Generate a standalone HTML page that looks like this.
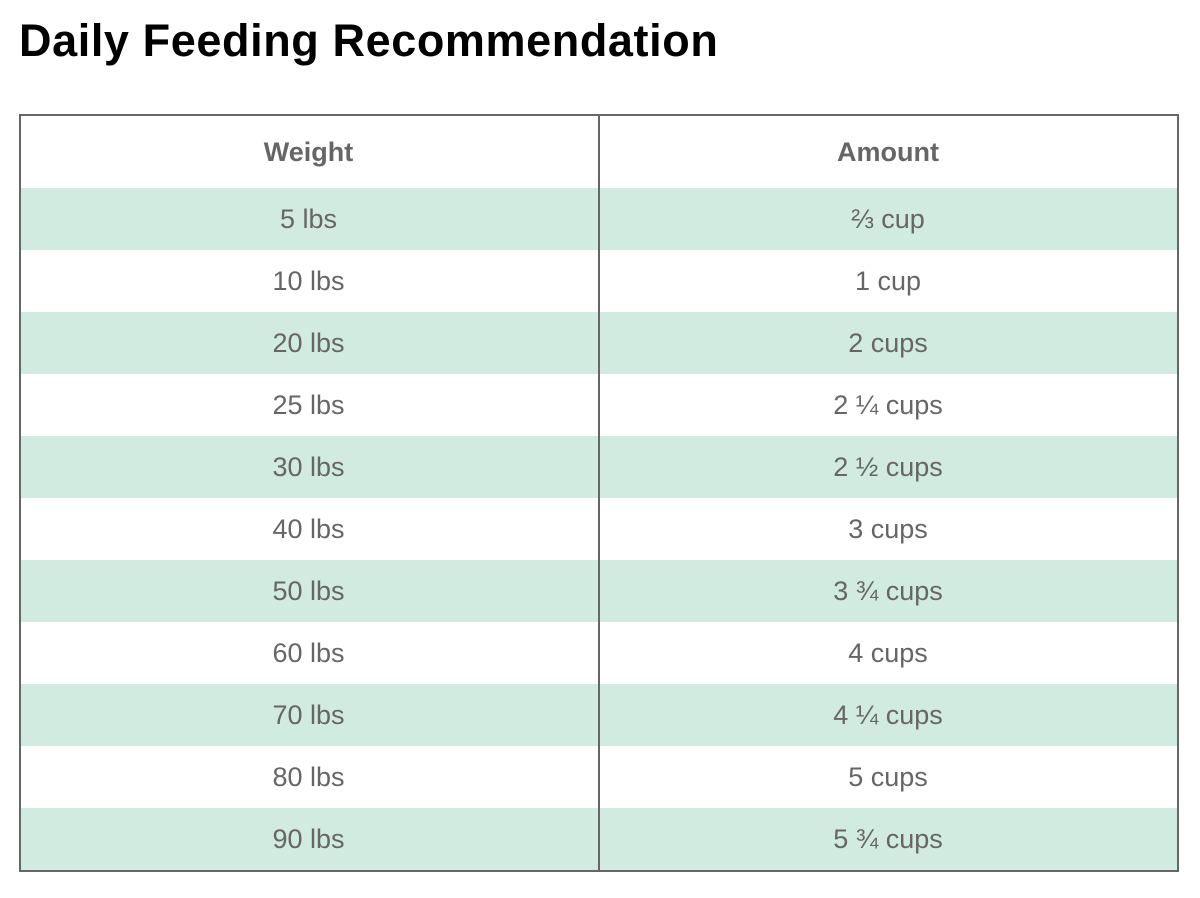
<!DOCTYPE html>
<html><head><meta charset="utf-8"><style>
body{margin:0;width:1200px;height:898px;background:#fff;position:relative;font-family:"Liberation Sans",sans-serif;overflow:hidden}
h1{position:absolute;left:19px;top:15px;margin:0;font-size:45px;font-weight:bold;color:#000;letter-spacing:0.6px}
.t{position:absolute;left:19px;top:114px;width:1156px;height:754px;border:2px solid #666}
.v{position:absolute;left:577px;top:0;width:2px;height:754px;background:#666;z-index:2}
.r{position:absolute;left:0;width:1156px;height:62px;display:flex;font-size:27px;color:#666}
.r div{width:578px;text-align:center;line-height:62px}
.r div:first-child{margin-left:-3px;width:581px}
.h{top:0;height:72px;font-weight:bold}
.h div{line-height:72px}
.g{background:#d1ebe0}
</style></head><body>
<h1>Daily Feeding Recommendation</h1>
<div class="t"><div class="v"></div>
<div class="r h"><div>Weight</div><div>Amount</div></div>
<div class="r g" style="top:72px"><div>5 lbs</div><div>⅔ cup</div></div>
<div class="r" style="top:134px"><div>10 lbs</div><div>1 cup</div></div>
<div class="r g" style="top:196px"><div>20 lbs</div><div>2 cups</div></div>
<div class="r" style="top:258px"><div>25 lbs</div><div>2 ¼ cups</div></div>
<div class="r g" style="top:320px"><div>30 lbs</div><div>2 ½ cups</div></div>
<div class="r" style="top:382px"><div>40 lbs</div><div>3 cups</div></div>
<div class="r g" style="top:444px"><div>50 lbs</div><div>3 ¾ cups</div></div>
<div class="r" style="top:506px"><div>60 lbs</div><div>4 cups</div></div>
<div class="r g" style="top:568px"><div>70 lbs</div><div>4 ¼ cups</div></div>
<div class="r" style="top:630px"><div>80 lbs</div><div>5 cups</div></div>
<div class="r g" style="top:692px"><div>90 lbs</div><div>5 ¾ cups</div></div>
</div>
</body></html>
